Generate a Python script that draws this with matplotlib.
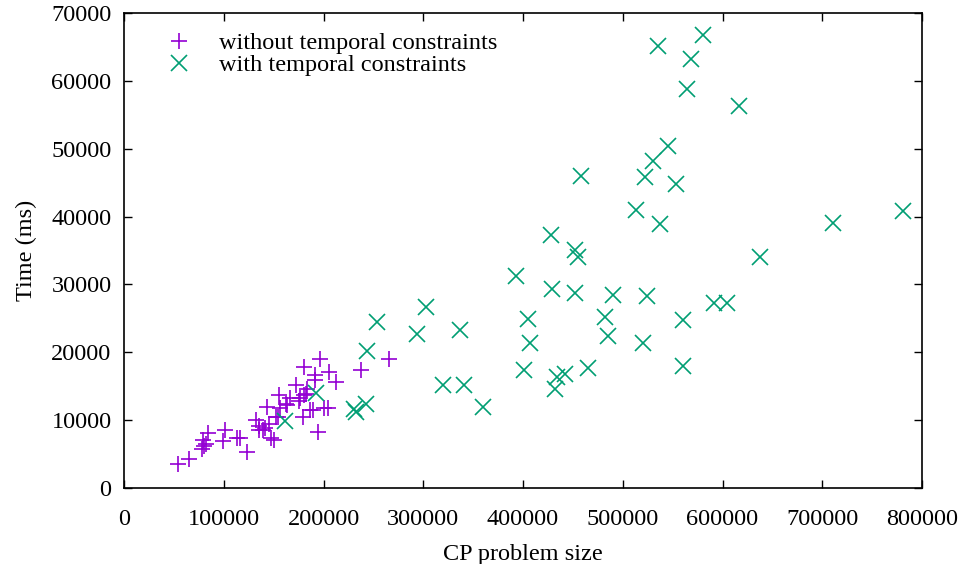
import numpy as np
import matplotlib
matplotlib.use("Agg")
import matplotlib.pyplot as plt

# problem size / time (ms)
size_without = [54300, 65000, 78000, 80300, 79300, 82000, 84300, 99300, 101500, 113000,
                116000, 123300, 132700, 135300, 139300, 143500, 147700, 150300, 152700, 155000,
                162700, 172700, 175300, 180000, 179300, 182700, 191000, 189300, 194300, 196000,
                206000, 204300, 212700, 237700, 266000, 135000, 141700, 145000, 154300, 156700,
                163300, 166700, 176700, 180000, 183300, 191700, 186700, 200000]
time_without = [3530, 4300, 5750, 6200, 7060, 6500, 8130, 7000, 8500, 7350,
                7350, 5300, 9950, 8600, 8530, 11960, 7300, 7060, 10490, 13680,
                12450, 15150, 12790, 17840, 10490, 13920, 15880, 11470, 8280, 19070,
                17100, 11720, 15630, 17450, 19070, 9100, 8870, 9500, 10400, 11720,
                12200, 13190, 13190, 13680, 14660, 16620, 11470, 11720]

size_with = [161000, 192000, 231000, 233000, 243000, 243300, 254000, 293700, 302700, 320300,
             336700, 341000, 360000, 392700, 401000, 405300, 406700, 428300, 429300, 431700,
             434000, 441700, 452000, 455300, 452000, 458300, 465000, 482700, 485300, 490300,
             513700, 520300, 522700, 524300, 530700, 535300, 537700, 545000, 553000, 560000,
             560000, 564300, 568300, 580000, 591000, 605000, 616300, 637700, 711000, 781000]
time_with = [9850, 13950, 11700, 11200, 12450, 20190, 24500, 22750, 26660, 15150,
             23240, 15250, 11870, 31220, 17350, 24850, 21370, 37310, 29260, 14560,
             16370, 16870, 35100, 34010, 28720, 45930, 17750, 25190, 22400, 28380,
             41030, 21370, 45840, 28240, 48240, 65150, 38930, 50340, 44850, 24800,
             18000, 58820, 63240, 66760, 27250, 27250, 56320, 34010, 39020, 40880]

plt.rcParams['font.family'] = ['Liberation Serif', 'DejaVu Serif']

fig = plt.figure(figsize=(9.63, 5.64), dpi=100)
ax = fig.add_axes([124 / 963, 1 - 488 / 564, (922 - 124) / 963, (488 - 13) / 564])

ax.plot(size_without, time_without, linestyle='none', marker='+', color='#9400d3',
        markersize=12, markeredgewidth=1.2, label='without temporal constraints')
ax.plot(size_with, time_with, linestyle='none', marker='x', color='#009e73',
        markersize=11, markeredgewidth=1.2, label='with temporal constraints')

ax.set_xlim(0, 800000)
ax.set_ylim(0, 70000)
ax.set_xticks(np.arange(0, 800001, 100000))
ax.set_yticks(np.arange(0, 70001, 10000))
ax.tick_params(direction='in', length=6, width=1, top=True, right=True,
               labelsize=17.5, pad=9)
ax.tick_params(axis='x', pad=15)
for s in ax.spines.values():
    s.set_linewidth(1.2)

ax.set_xlabel('CP problem size', fontsize=17.5, labelpad=10)
ax.set_ylabel('Time (ms)', fontsize=17.5, labelpad=10)

ax.legend(loc='upper left', bbox_to_anchor=(0.025, 0.995), frameon=False, fontsize=17.5,
          handlelength=1.5, handletextpad=0.9, labelspacing=0.0, borderaxespad=0.3)

fig.savefig('out.png', dpi=100)
